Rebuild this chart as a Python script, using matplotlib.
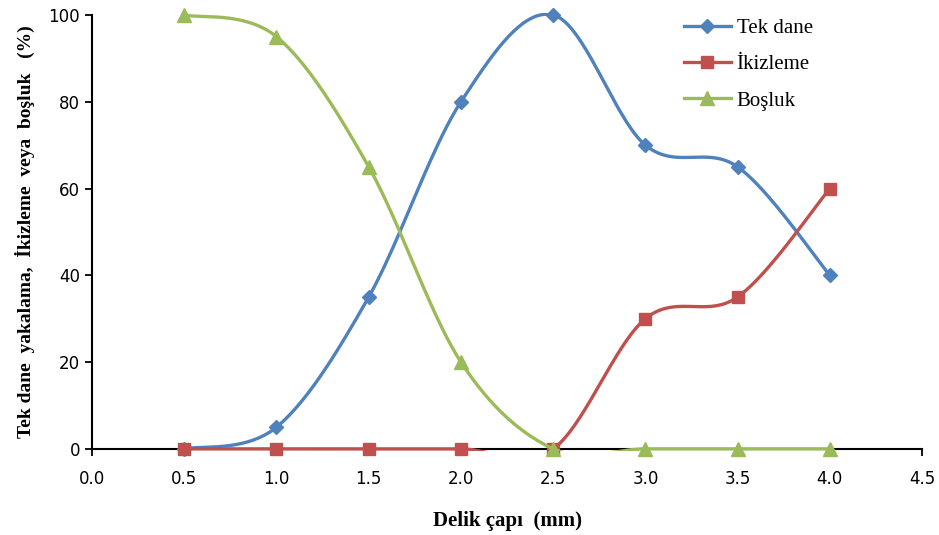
import numpy as np
import matplotlib
matplotlib.use("Agg")
import matplotlib.pyplot as plt
from matplotlib.lines import Line2D
from matplotlib.patches import Rectangle

# hole diameter (mm) and outcome shares (%)
delik = [0.5, 1.0, 1.5, 2.0, 2.5, 3.0, 3.5, 4.0]
tek_dane = [0, 5, 35, 80, 100, 70, 65, 40]
ikizleme = [0, 0, 0, 0, 0, 30, 35, 60]
bosluk = [100, 95, 65, 20, 0, 0, 0, 0]

series = [
    ("Tek dane", tek_dane, "#4F81BD", "D", 7),
    ("İkizleme", ikizleme, "#C0504D", "s", 9),
    ("Boşluk", bosluk, "#9BBB59", "^", 10),
]


def smooth(x, y, n=40):
    """Catmull-Rom style bezier through the points (spreadsheet smoothed line)."""
    x = np.asarray(x, float)
    y = np.asarray(y, float)
    px = np.concatenate([[x[0]], x, [x[-1]]])
    py = np.concatenate([[y[0]], y, [y[-1]]])
    xs, ys = [], []
    t = np.linspace(0, 1, n)
    for i in range(1, len(px) - 2):
        p0 = np.array([px[i], py[i]])
        p3 = np.array([px[i + 1], py[i + 1]])
        c1 = p0 + (np.array([px[i + 1], py[i + 1]]) - np.array([px[i - 1], py[i - 1]])) / 6
        c2 = p3 - (np.array([px[i + 2], py[i + 2]]) - np.array([px[i], py[i]])) / 6
        b = (((1 - t) ** 3)[:, None] * p0 + (3 * (1 - t) ** 2 * t)[:, None] * c1
             + (3 * (1 - t) * t ** 2)[:, None] * c2 + (t ** 3)[:, None] * p3)
        xs.append(b[:, 0])
        ys.append(b[:, 1])
    return np.concatenate(xs), np.concatenate(ys)


fig = plt.figure(figsize=(9.39, 5.35), dpi=100)
ax = fig.add_axes([0.098, 0.161, 0.884, 0.811])

# plot area clip, a little taller so lines lying on 0 / 100 are not halved
clip = Rectangle((0, -0.004), 1, 1.008, transform=ax.transAxes,
                 facecolor="none", edgecolor="none")
ax.add_patch(clip)

handles = []
for name, vals, col, mk, ms in series:
    sx, sy = smooth(delik, vals)
    ln, = ax.plot(sx, sy, color=col, lw=2.4, solid_capstyle="round", zorder=3)
    ln.set_clip_path(clip)
    ax.plot(delik, vals, ls="none", marker=mk, ms=ms, color=col, clip_on=False, zorder=3)
    handles.append(Line2D([], [], color=col, lw=2.4, marker=mk, ms=ms))

ax.set_xlim(0, 4.5)
ax.set_ylim(0, 100)
ax.set_xticks(np.arange(0, 4.51, 0.5))
ax.set_xticklabels([f"{v:.1f}" for v in np.arange(0, 4.51, 0.5)])
ax.set_yticks(range(0, 101, 20))
for s in ["top", "right"]:
    ax.spines[s].set_visible(False)
for s in ["left", "bottom"]:
    ax.spines[s].set_linewidth(1.5)
ax.tick_params(axis="both", direction="out", length=5, width=1.3, labelsize=12)
ax.tick_params(axis="x", pad=10)

serif = "Liberation Serif"
ax.set_xlabel("Delik çapı  (mm)", fontfamily=serif, fontweight="bold", fontsize=15, labelpad=17)
ax.set_ylabel("Tek dane  yakalama,  İkizleme  veya  boşluk   (%)", fontfamily=serif,
              fontweight="bold", fontsize=14, labelpad=10)

ax.legend(handles, [s[0] for s in series], loc="upper left", bbox_to_anchor=(0.69, 1.035),
          frameon=False, prop={"family": serif, "size": 15}, handlelength=2.3,
          handletextpad=0.25, labelspacing=0.8)

fig.savefig("out.png", dpi=100)
